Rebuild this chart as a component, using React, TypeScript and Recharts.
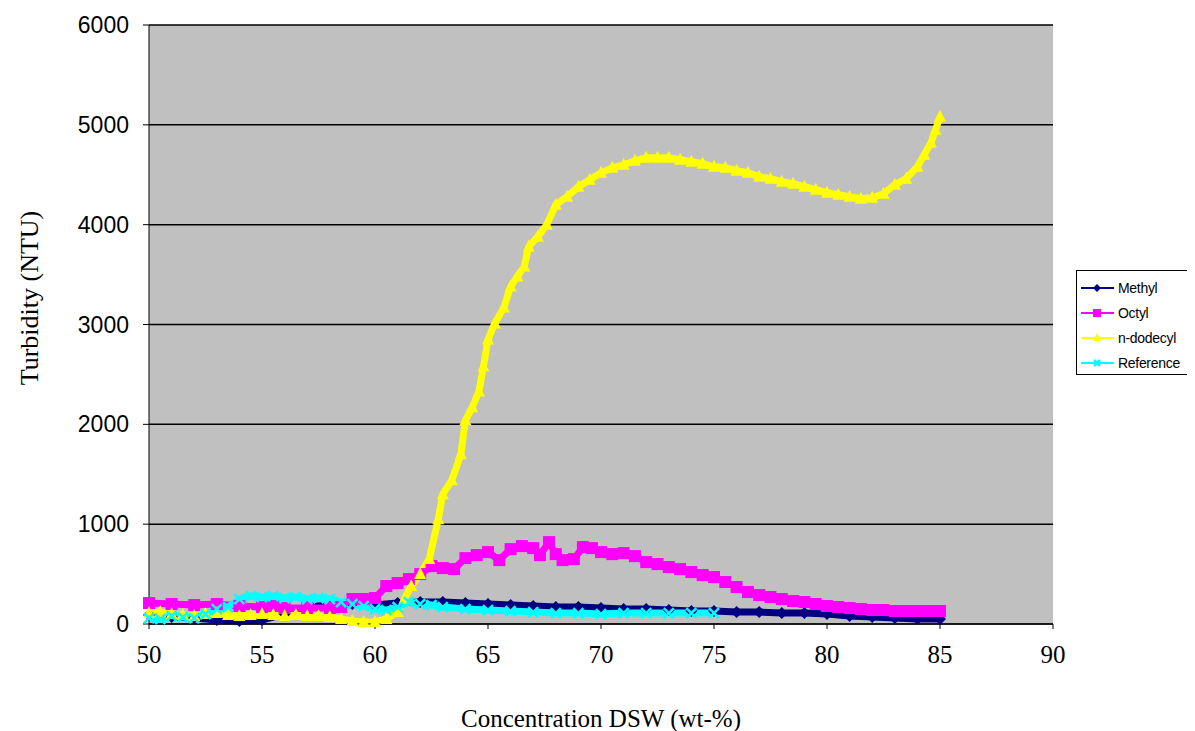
import { CartesianGrid, Line, LineChart, XAxis, YAxis } from "recharts";

// concentration DSW (wt-%) and turbidity (NTU)
const methylX = [50, 51, 52, 53, 54, 55, 56, 57, 58, 59, 60, 61, 62, 63, 64, 65, 66, 67, 68, 69, 70, 71, 72, 73, 74, 75, 76, 77, 78, 79, 80, 81, 82, 83, 84, 85];
const methylY = [90, 70, 60, 40, 30, 40, 100, 170, 190, 200, 190, 210, 220, 220, 210, 200, 190, 180, 170, 170, 160, 150, 150, 140, 130, 130, 120, 120, 110, 110, 100, 80, 70, 60, 50, 50];

const octylX = [50, 51, 52, 53, 54, 55, 55.5, 56, 57, 58, 58.5, 59, 59.5, 60, 60.5, 61, 61.5, 62, 62.5, 63, 63.5, 64, 64.5, 65, 65.5, 66, 66.5, 67, 67.3, 67.7, 68, 68.3, 68.8, 69.2, 69.6, 70, 70.5, 71, 71.5, 72, 72.5, 73, 73.5, 74, 74.5, 75, 75.5, 76, 76.5, 77, 77.5, 78, 78.5, 79, 79.5, 80, 80.5, 81, 81.5, 82, 82.5, 83, 83.5, 84, 84.5, 85];
const octylY = [210, 200, 190, 200, 180, 170, 180, 160, 160, 160, 170, 250, 250, 260, 380, 410, 450, 500, 580, 560, 550, 660, 690, 720, 640, 750, 780, 760, 690, 820, 700, 640, 650, 770, 760, 720, 700, 710, 680, 620, 600, 570, 550, 520, 490, 470, 420, 370, 320, 290, 270, 250, 230, 220, 200, 180, 170, 160, 150, 140, 140, 130, 130, 130, 130, 130];

const dodecylX = [50, 50.5, 51, 51.5, 52, 52.5, 53, 53.5, 54, 54.5, 55, 55.5, 56, 56.5, 57, 57.5, 58, 58.5, 59, 59.5, 60, 60.5, 61, 61.3, 61.6, 62, 62.4, 62.8, 63, 63.4, 63.8, 64, 64.3, 64.6, 64.8, 65, 65.3, 65.7, 66, 66.3, 66.6, 66.8, 67.2, 67.6, 68, 68.5, 69, 69.5, 70, 70.5, 71, 71.5, 72, 72.5, 73, 73.5, 74, 74.5, 75, 75.5, 76, 76.5, 77, 77.5, 78, 78.5, 79, 79.5, 80, 80.5, 81, 81.5, 82, 82.5, 83, 83.5, 84, 84.3, 84.6, 84.8, 85];
const dodecylY = [110, 120, 100, 90, 80, 100, 110, 90, 80, 90, 100, 90, 80, 90, 80, 80, 70, 50, 30, 20, 20, 50, 120, 250, 380, 500, 650, 1050, 1300, 1440, 1700, 2040, 2170, 2330, 2580, 2850, 3010, 3170, 3380, 3480, 3580, 3780, 3880, 4000, 4200, 4280, 4380, 4450, 4520, 4570, 4600, 4640, 4670, 4670, 4670, 4650, 4630, 4610, 4580, 4570, 4540, 4520, 4480, 4460, 4430, 4410, 4380, 4350, 4320, 4300, 4280, 4260, 4270, 4310, 4400, 4460, 4580, 4700, 4820, 4950, 5080];

const referenceX = [50, 50.5, 51, 51.5, 52, 52.5, 53, 53.5, 54, 54.5, 55, 55.5, 56, 56.5, 57, 57.5, 58, 58.5, 59, 59.5, 60, 60.5, 61, 61.5, 62, 62.5, 63, 64, 65, 66, 67, 68, 69, 70, 71, 72, 73, 74, 75];
const referenceY = [60, 50, 80, 70, 60, 100, 150, 170, 250, 280, 270, 280, 260, 270, 250, 260, 250, 220, 200, 180, 150, 140, 170, 220, 200, 190, 170, 150, 140, 130, 120, 110, 110, 100, 110, 110, 110, 110, 110];

const xTicks = [50, 55, 60, 65, 70, 75, 80, 85, 90];
const yTicks = [0, 1000, 2000, 3000, 4000, 5000, 6000];

const toPoints = (xs: number[], ys: number[]) => xs.map((x, i) => ({ x, y: ys[i] }));

type Shape = "diamond" | "square" | "triangle" | "cross";

const series: { name: string; color: string; shape: Shape; data: { x: number; y: number }[] }[] = [
  { name: "Methyl", color: "#000080", shape: "diamond", data: toPoints(methylX, methylY) },
  { name: "Octyl", color: "#FF00FF", shape: "square", data: toPoints(octylX, octylY) },
  { name: "n-dodecyl", color: "#FFFF00", shape: "triangle", data: toPoints(dodecylX, dodecylY) },
  { name: "Reference", color: "#00FFFF", shape: "cross", data: toPoints(referenceX, referenceY) },
];

const serif = "Liberation Serif, Times New Roman, serif";
const sans = "Liberation Sans, Arial, sans-serif";

function Marker({ cx, cy, shape, color, r = 6 }: { cx: number; cy: number; shape: Shape; color: string; r?: number }) {
  if (shape === "diamond")
    return <polygon points={`${cx},${cy - r} ${cx + r},${cy} ${cx},${cy + r} ${cx - r},${cy}`} fill={color} />;
  if (shape === "square") return <rect x={cx - r} y={cy - r} width={r * 2} height={r * 2} fill={color} />;
  if (shape === "triangle")
    return <polygon points={`${cx},${cy - r - 1} ${cx + r},${cy + r - 1} ${cx - r},${cy + r - 1}`} fill={color} />;
  return (
    <g stroke={color} strokeWidth={2.5}>
      <line x1={cx - r + 1} y1={cy - r + 1} x2={cx + r - 1} y2={cy + r - 1} />
      <line x1={cx - r + 1} y1={cy + r - 1} x2={cx + r - 1} y2={cy - r + 1} />
    </g>
  );
}

function LegendBox() {
  return (
    <div
      style={{
        position: "absolute",
        left: 1068,
        top: 262,
        width: 116,
        height: 105,
        border: "1px solid #000",
        background: "#fff",
        padding: "4px 0 0 4px",
        fontFamily: sans,
        fontSize: 14,
        letterSpacing: -0.3,
        boxSizing: "border-box",
      }}
    >
      {series.map((s) => (
        <div key={s.name} style={{ display: "flex", alignItems: "center", height: 25 }}>
          <svg width={34} height={14} style={{ marginRight: 3 }}>
            <line x1={0} y1={7} x2={33} y2={7} stroke={s.color} strokeWidth={2} />
            <Marker cx={16} cy={7} shape={s.shape} color={s.color} r={4} />
          </svg>
          <span>{s.name}</span>
        </div>
      ))}
    </div>
  );
}

const YTitle = () => (
  <text
    transform="translate(21,290) rotate(-90)"
    textAnchor="middle"
    dominantBaseline="central"
    fontSize={26}
    fontFamily={serif}
    fill="#000"
  >
    Turbidity (NTU)
  </text>
);

export default function App() {
  return (
    <div style={{ position: "relative", width: 1187, height: 723 }}>
      <LineChart width={1187} height={723} margin={{ top: 17, right: 142, left: 0, bottom: 0 }}>
        <CartesianGrid fill="#C0C0C0" stroke="#000" strokeWidth={1.5} vertical={false} />
        <XAxis
          type="number"
          dataKey="x"
          domain={[50, 90]}
          ticks={xTicks}
          allowDuplicatedCategory={false}
          height={107}
          stroke="#000"
          tickSize={5}
          tickMargin={16}
          tick={{ fontSize: 25, fill: "#000", fontFamily: serif }}
          label={{
            value: "Concentration DSW (wt-%)",
            position: "insideBottom",
            offset: 4,
            style: { fontSize: 25, fill: "#000", fontFamily: serif },
          }}
        />
        <YAxis
          type="number"
          domain={[0, 6000]}
          ticks={yTicks}
          width={141}
          stroke="#000"
          tickSize={6}
          tickMargin={14}
          tick={{ fontSize: 23, fill: "#000", fontFamily: sans }}
          label={{ content: () => <YTitle /> }}
        />
        {series.map((s) => (
          <Line
            key={s.name}
            name={s.name}
            data={s.data}
            dataKey="y"
            type="linear"
            stroke={s.color}
            strokeWidth={7}
            isAnimationActive={false}
            dot={(p: any) => <Marker key={p.key} cx={p.cx} cy={p.cy} shape={s.shape} color={s.color} />}
            activeDot={false}
          />
        ))}
      </LineChart>
      <LegendBox />
    </div>
  );
}
